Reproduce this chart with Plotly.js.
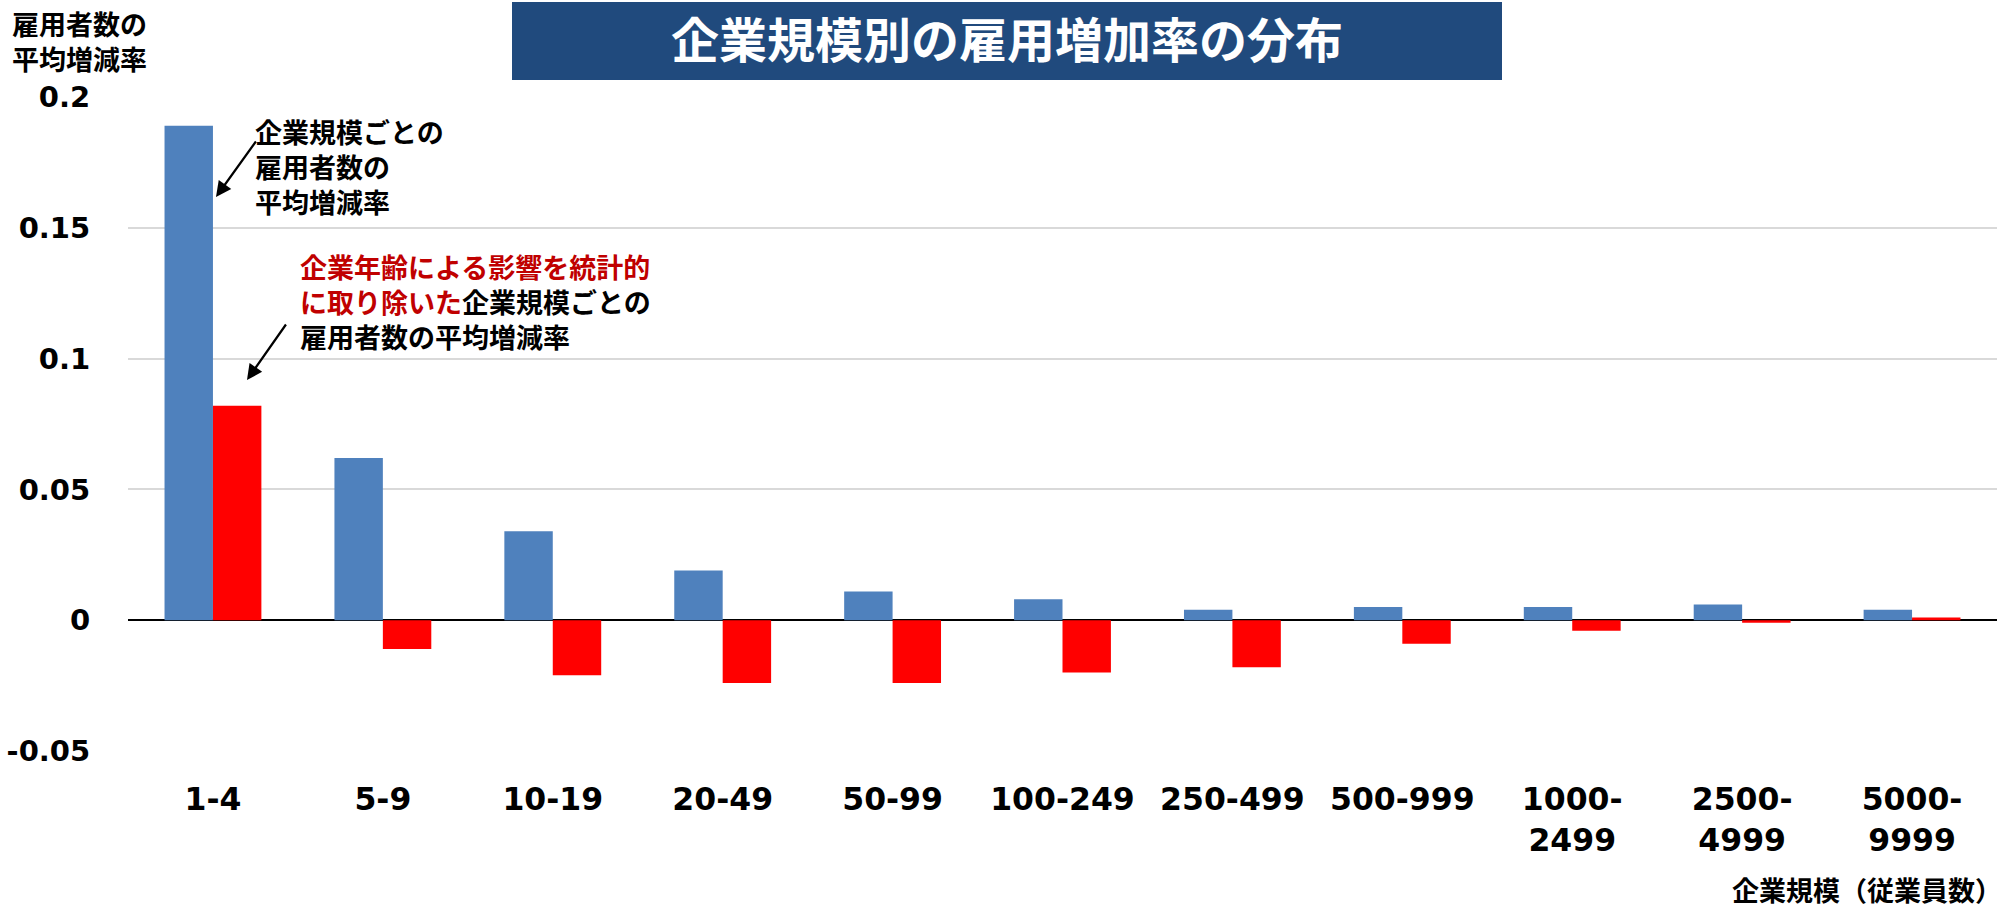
<!DOCTYPE html>
<html>
<head>
<meta charset="utf-8">
<script src="https://cdn.plot.ly/plotly-3.0.1.min.js"></script>
<style>html,body{margin:0;padding:0;background:#fff;}#chart{width:2009px;height:908px;}</style>
</head>
<body>
<div id="chart"></div>
<script>
// Categories (company size by number of employees)
const categories = ["1-4","5-9","10-19","20-49","50-99","100-249","250-499","500-999","1000-<br>2499","2500-<br>4999","5000-<br>9999"];
// Average employment growth rate by company size
const avgGrowth = [0.189, 0.062, 0.034, 0.019, 0.011, 0.008, 0.004, 0.005, 0.005, 0.006, 0.004];
// Average growth rate after controlling for company age
const ageAdjustedGrowth = [0.082, -0.011, -0.021, -0.024, -0.024, -0.020, -0.018, -0.009, -0.004, -0.001, 0.001];
const yTickVals = [-0.05, 0, 0.05, 0.1, 0.15, 0.2];
const yTickText = ["-0.05", "0", "0.05", "0.1", "0.15", "0.2"];

const titleText = "企業規模別の雇用増加率の分布";
const yTitleText = "雇用者数の<br>平均増減率";
const xTitleText = "企業規模（従業員数）";
const note1 = "企業規模ごとの<br>雇用者数の<br>平均増減率";
const note2 = "<span style='color:#c00000'>企業年齢による影響を統計的</span><br><span style='color:#c00000'>に取り除いた</span>企業規模ごとの<br>雇用者数の平均増減率";

const JP = "Noto Sans CJK JP, sans-serif";
const NUM = "DejaVu Sans, Verdana, sans-serif";

const idx = categories.map((_, i) => i);

const traces = [
  {type: "bar", x: idx, y: avgGrowth, marker: {color: "#4f81bd"}, name: "平均増減率", hoverinfo: "skip"},
  {type: "bar", x: idx, y: ageAdjustedGrowth, marker: {color: "#ff0000"}, name: "企業年齢調整後", hoverinfo: "skip"}
];

const layout = {
  width: 2009, height: 908,
  margin: {l: 128, r: 12, t: 97, b: 157},
  paper_bgcolor: "#ffffff", plot_bgcolor: "#ffffff",
  showlegend: false,
  barmode: "group", bargap: 0.43, bargroupgap: 0,
  title: {
    text: titleText, xref: "container", yref: "container",
    x: 0.5012, y: 1 - 41/908, xanchor: "center", yanchor: "middle",
    font: {family: JP, size: 48, color: "#ffffff", weight: "bold"}
  },
  xaxis: {
    tickmode: "array", tickvals: idx, ticktext: categories,
    range: [-0.5, categories.length - 0.5],
    showgrid: false, zeroline: false, showline: false,
    ticks: "outside", ticklen: 20, tickcolor: "rgba(0,0,0,0)",
    tickfont: {family: NUM, size: 31.5, color: "#000000", weight: "bold"},
    tickangle: 0, fixedrange: true
  },
  yaxis: {
    range: [-0.05, 0.2],
    tickmode: "array", tickvals: yTickVals, ticktext: yTickText,
    showgrid: true, gridcolor: "#d9d9d9", gridwidth: 2,
    zeroline: true, zerolinecolor: "#000000", zerolinewidth: 2,
    showline: false,
    ticks: "outside", ticklen: 31, tickcolor: "rgba(0,0,0,0)",
    tickfont: {family: NUM, size: 29, color: "#000000", weight: "bold"},
    fixedrange: true
  },
  shapes: [
    {type: "rect", xref: "paper", yref: "paper", layer: "below",
     x0: (512-128)/1869, x1: (1502-128)/1869, y0: (751-80)/654, y1: (751-2)/654,
     fillcolor: "#204a7d", line: {width: 0}}
  ],
  annotations: [
    {text: yTitleText, xref: "paper", yref: "paper", x: (11-128)/1869, y: (751-3)/654,
     xanchor: "left", yanchor: "top", align: "left", showarrow: false, borderpad: 0,
     font: {family: JP, size: 27, color: "#000000", weight: "bold"}},
    {text: xTitleText, xref: "paper", yref: "paper", x: (2004-128)/1869, y: (751-889)/654,
     xanchor: "right", yanchor: "middle", align: "right", showarrow: false,
     font: {family: JP, size: 27, color: "#000000", weight: "bold"}},
    {text: note1, xref: "paper", yref: "paper", x: (253-128)/1869, y: (751-110)/654,
     xanchor: "left", yanchor: "top", align: "left", showarrow: false,
     font: {family: JP, size: 27, color: "#000000", weight: "bold"}},
    {text: note2, xref: "paper", yref: "paper", x: (298-128)/1869, y: (751-245)/654,
     xanchor: "left", yanchor: "top", align: "left", showarrow: false,
     font: {family: JP, size: 27, color: "#000000", weight: "bold"}},
    {text: "", xref: "paper", yref: "paper", x: (216-128)/1869, y: (751-197)/654,
     ax: 41, ay: -57, showarrow: true, arrowhead: 2, arrowsize: 1.4, arrowwidth: 2.2, arrowcolor: "#000000"},
    {text: "", xref: "paper", yref: "paper", x: (247-128)/1869, y: (751-380)/654,
     ax: 40, ay: -57, showarrow: true, arrowhead: 2, arrowsize: 1.4, arrowwidth: 2.2, arrowcolor: "#000000"}
  ]
};

Plotly.newPlot("chart", traces, layout, {displayModeBar: false, staticPlot: true});
</script>
</body>
</html>
